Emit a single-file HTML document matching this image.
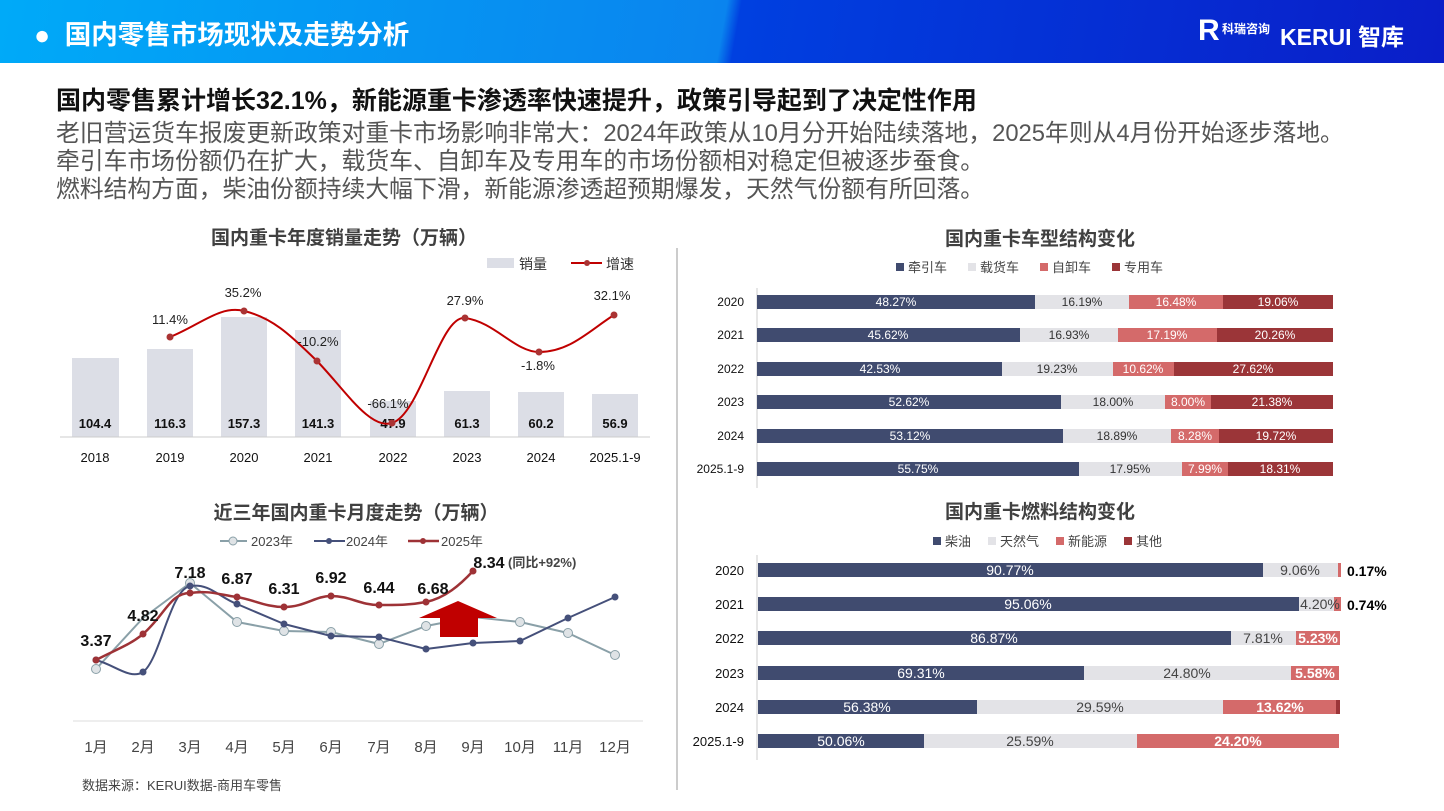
<!DOCTYPE html>
<html><head><meta charset="utf-8">
<style>
body{margin:0;width:1444px;height:811px;overflow:hidden;background:#fff;font-family:"Liberation Sans","Noto Sans CJK SC",sans-serif;}
.hdr{position:absolute;left:0;top:0;width:1444px;height:63px;background:linear-gradient(100deg,#00aaf8 0%,#0a84ee 50%,#0040e0 51%,#0a1ec8 100%);}
.hdr .t{position:absolute;left:34px;top:13px;color:#fff;font-size:26.5px;font-weight:bold;}
.hl{position:absolute;left:56px;top:81px;font-size:25px;font-weight:bold;color:#111;}
.body{position:absolute;left:56px;top:120px;font-size:23.8px;color:#555;line-height:28px;white-space:nowrap;}
svg{position:absolute;left:0;top:0;}
</style></head><body>
<div class="hdr"><div class="t">●&nbsp; 国内零售市场现状及走势分析</div>
<div style="position:absolute;left:1198px;top:14px;color:#fff;font-weight:bold;font-size:30px;">R</div>
<div style="position:absolute;left:1222px;top:20px;color:#fff;font-size:12px;font-weight:bold;">科瑞咨询</div>
<div style="position:absolute;left:1280px;top:18px;color:#fff;font-size:23px;font-weight:bold;">KERUI 智库</div></div>
<div class="hl">国内零售累计增长32.1%，新能源重卡渗透率快速提升，政策引导起到了决定性作用</div>
<div class="body">老旧营运货车报废更新政策对重卡市场影响非常大：2024年政策从10月分开始陆续落地，2025年则从4月份开始逐步落地。<br>牵引车市场份额仍在扩大，载货车、自卸车及专用车的市场份额相对稳定但被逐步蚕食。<br>燃料结构方面，柴油份额持续大幅下滑，新能源渗透超预期爆发，天然气份额有所回落。</div>
<svg width="1444" height="811" font-family="Liberation Sans, Noto Sans CJK SC, sans-serif">
<line x1="677" y1="248" x2="677" y2="790" stroke="#bbb" stroke-width="1.5"/>
<!-- top left -->
<text x="344" y="244" font-size="19" font-weight="bold" fill="#404040" text-anchor="middle">国内重卡年度销量走势（万辆）</text>
<rect x="487" y="258" width="27" height="10" fill="#dcdee6"/><text x="519" y="269" font-size="14" fill="#333">销量</text>
<line x1="571" y1="263" x2="602" y2="263" stroke="#c00000" stroke-width="2"/><circle cx="587" cy="263" r="3" fill="#a33"/><text x="606" y="269" font-size="14" fill="#333">增速</text>
<g fill="#dcdee6">
<rect x="72" y="358" width="47" height="79"/><rect x="147" y="349" width="46" height="88"/><rect x="221" y="317" width="46" height="120"/><rect x="295" y="330" width="46" height="107"/><rect x="370" y="401" width="46" height="36"/><rect x="444" y="391" width="46" height="46"/><rect x="518" y="392" width="46" height="45"/><rect x="592" y="394" width="46" height="43"/></g>
<line x1="60" y1="437" x2="650" y2="437" stroke="#ccc"/>
<g font-size="13" font-weight="bold" fill="#111" text-anchor="middle">
<text x="95" y="428">104.4</text><text x="170" y="428">116.3</text><text x="244" y="428">157.3</text><text x="318" y="428">141.3</text><text x="393" y="428">47.9</text><text x="467" y="428">61.3</text><text x="541" y="428">60.2</text><text x="615" y="428">56.9</text></g>
<g font-size="13" fill="#111" text-anchor="middle">
<text x="95" y="462">2018</text><text x="170" y="462">2019</text><text x="244" y="462">2020</text><text x="318" y="462">2021</text><text x="393" y="462">2022</text><text x="467" y="462">2023</text><text x="541" y="462">2024</text><text x="615" y="462">2025.1-9</text></g>
<path d="M170,337 C200,325 220,305 244,311 C275,318 295,340 317,361 C345,390 370,430 392,423 C420,415 440,315 465,318 C495,322 515,352 539,352 C570,352 590,330 614,315" fill="none" stroke="#c00000" stroke-width="2"/>
<g fill="#a33"><circle cx="170" cy="337" r="3.5"/><circle cx="244" cy="311" r="3.5"/><circle cx="317" cy="361" r="3.5"/><circle cx="392" cy="423" r="3.5"/><circle cx="465" cy="318" r="3.5"/><circle cx="539" cy="352" r="3.5"/><circle cx="614" cy="315" r="3.5"/></g>
<g font-size="13" fill="#222" text-anchor="middle">
<text x="170" y="324">11.4%</text><text x="243" y="297">35.2%</text><text x="318" y="346">-10.2%</text><text x="388" y="408">-66.1%</text><text x="465" y="305">27.9%</text><text x="538" y="370">-1.8%</text><text x="612" y="300">32.1%</text></g>
<!-- bottom left -->
<text x="356" y="519" font-size="19" font-weight="bold" fill="#404040" text-anchor="middle">近三年国内重卡月度走势（万辆）</text>
<line x1="220" y1="541" x2="247" y2="541" stroke="#8aa0a8" stroke-width="2"/><circle cx="233" cy="541" r="4" fill="#dfe3e6" stroke="#8aa0a8"/><text x="251" y="546" font-size="13" fill="#444">2023年</text>
<line x1="314" y1="541" x2="345" y2="541" stroke="#45507a" stroke-width="2"/><circle cx="329" cy="541" r="3" fill="#45507a"/><text x="346" y="546" font-size="13" fill="#444">2024年</text>
<line x1="408" y1="541" x2="439" y2="541" stroke="#9e3236" stroke-width="2.5"/><circle cx="423" cy="541" r="3" fill="#9e3236"/><text x="441" y="546" font-size="13" fill="#444">2025年</text>
<line x1="73" y1="721" x2="643" y2="721" stroke="#ddd"/>
<g font-size="15" fill="#444" text-anchor="middle">
<text x="96" y="752">1月</text><text x="143" y="752">2月</text><text x="190" y="752">3月</text><text x="237" y="752">4月</text><text x="284" y="752">5月</text><text x="331" y="752">6月</text><text x="379" y="752">7月</text><text x="426" y="752">8月</text><text x="473" y="752">9月</text><text x="520" y="752">10月</text><text x="568" y="752">11月</text><text x="615" y="752">12月</text></g>
<polyline points="96,669 143,618 190,583 237,622 284,631 331,632 379,644 426,626 473,617 520,622 568,633 615,655" fill="none" stroke="#8aa0a8" stroke-width="2" stroke-linejoin="round"/>
<g fill="#dfe3e6" stroke="#8aa0a8"><circle cx="96" cy="669" r="4.5"/><circle cx="190" cy="583" r="4.5"/><circle cx="237" cy="622" r="4.5"/><circle cx="284" cy="631" r="4.5"/><circle cx="331" cy="632" r="4.5"/><circle cx="379" cy="644" r="4.5"/><circle cx="426" cy="626" r="4.5"/><circle cx="520" cy="622" r="4.5"/><circle cx="568" cy="633" r="4.5"/><circle cx="615" cy="655" r="4.5"/></g>
<path d="M96,660 C115,665 130,680 143,672 C160,660 170,590 190,586 C210,583 220,598 237,604 L284,624 L331,636 L379,637 L426,649 L473,643 L520,641 L568,618 L615,597" fill="none" stroke="#45507a" stroke-width="2" stroke-linejoin="round"/>
<g fill="#45507a"><circle cx="96" cy="660" r="3.5"/><circle cx="143" cy="672" r="3.5"/><circle cx="190" cy="586" r="3.5"/><circle cx="237" cy="604" r="3.5"/><circle cx="284" cy="624" r="3.5"/><circle cx="331" cy="636" r="3.5"/><circle cx="379" cy="637" r="3.5"/><circle cx="426" cy="649" r="3.5"/><circle cx="473" cy="643" r="3.5"/><circle cx="520" cy="641" r="3.5"/><circle cx="568" cy="618" r="3.5"/><circle cx="615" cy="597" r="3.5"/></g>
<path d="M96,660 C115,650 130,645 143,634 C165,615 170,593 190,593 C210,590 220,595 237,597 C255,600 265,607 284,607 C305,607 315,596 331,596 C350,596 360,605 379,605 C400,605 410,605 426,602 C445,598 460,585 473,571" fill="none" stroke="#9e3236" stroke-width="2.5"/>
<g fill="#9e3236"><circle cx="96" cy="660" r="3.5"/><circle cx="143" cy="634" r="3.5"/><circle cx="190" cy="593" r="3.5"/><circle cx="237" cy="597" r="3.5"/><circle cx="284" cy="607" r="3.5"/><circle cx="331" cy="596" r="3.5"/><circle cx="379" cy="605" r="3.5"/><circle cx="426" cy="602" r="3.5"/><circle cx="473" cy="571" r="3.5"/></g>
<polygon points="458,601 497,618 478,618 478,637 440,637 440,618 419,618" fill="#c00000"/>
<g font-size="16" font-weight="bold" fill="#111" text-anchor="middle">
<text x="96" y="646">3.37</text><text x="143" y="621">4.82</text><text x="190" y="578">7.18</text><text x="237" y="584">6.87</text><text x="284" y="594">6.31</text><text x="331" y="583">6.92</text><text x="379" y="593">6.44</text><text x="433" y="594">6.68</text><text x="489" y="568">8.34</text></g>
<text x="508" y="567" font-size="13" font-weight="bold" fill="#444">(同比+92%)</text>
<text x="82" y="790" font-size="13" fill="#444">数据来源：KERUI数据-商用车零售</text>
<!-- top right -->
<text x="1040" y="245" font-size="19" font-weight="bold" fill="#404040" text-anchor="middle">国内重卡车型结构变化</text>
<g font-size="13" fill="#444">
<rect x="896" y="263" width="8" height="8" fill="#404b6f"/><text x="908" y="272">牵引车</text>
<rect x="968" y="263" width="8" height="8" fill="#e3e3e7"/><text x="980" y="272">载货车</text>
<rect x="1040" y="263" width="8" height="8" fill="#d46a6a"/><text x="1052" y="272">自卸车</text>
<rect x="1112" y="263" width="8" height="8" fill="#9b3538"/><text x="1124" y="272">专用车</text></g>
<line x1="757" y1="288" x2="757" y2="488" stroke="#ccc"/>
<g font-size="12">
<g transform="translate(0,295)"><rect x="757" width="278" height="14" fill="#404b6f"/><rect x="1035" width="94" height="14" fill="#e3e3e7"/><rect x="1129" width="94" height="14" fill="#d46a6a"/><rect x="1223" width="110" height="14" fill="#9b3538"/>
<text x="744" y="11" text-anchor="end" fill="#111">2020</text><text x="896" y="11" text-anchor="middle" fill="#fff">48.27%</text><text x="1082" y="11" text-anchor="middle" fill="#333">16.19%</text><text x="1176" y="11" text-anchor="middle" fill="#fff">16.48%</text><text x="1278" y="11" text-anchor="middle" fill="#fff">19.06%</text></g>
<g transform="translate(0,328)"><rect x="757" width="263" height="14" fill="#404b6f"/><rect x="1020" width="98" height="14" fill="#e3e3e7"/><rect x="1118" width="99" height="14" fill="#d46a6a"/><rect x="1217" width="116" height="14" fill="#9b3538"/>
<text x="744" y="11" text-anchor="end" fill="#111">2021</text><text x="888" y="11" text-anchor="middle" fill="#fff">45.62%</text><text x="1069" y="11" text-anchor="middle" fill="#333">16.93%</text><text x="1167" y="11" text-anchor="middle" fill="#fff">17.19%</text><text x="1275" y="11" text-anchor="middle" fill="#fff">20.26%</text></g>
<g transform="translate(0,362)"><rect x="757" width="245" height="14" fill="#404b6f"/><rect x="1002" width="111" height="14" fill="#e3e3e7"/><rect x="1113" width="61" height="14" fill="#d46a6a"/><rect x="1174" width="159" height="14" fill="#9b3538"/>
<text x="744" y="11" text-anchor="end" fill="#111">2022</text><text x="880" y="11" text-anchor="middle" fill="#fff">42.53%</text><text x="1057" y="11" text-anchor="middle" fill="#333">19.23%</text><text x="1143" y="11" text-anchor="middle" fill="#fff">10.62%</text><text x="1253" y="11" text-anchor="middle" fill="#fff">27.62%</text></g>
<g transform="translate(0,395)"><rect x="757" width="304" height="14" fill="#404b6f"/><rect x="1061" width="104" height="14" fill="#e3e3e7"/><rect x="1165" width="46" height="14" fill="#d46a6a"/><rect x="1211" width="122" height="14" fill="#9b3538"/>
<text x="744" y="11" text-anchor="end" fill="#111">2023</text><text x="909" y="11" text-anchor="middle" fill="#fff">52.62%</text><text x="1113" y="11" text-anchor="middle" fill="#333">18.00%</text><text x="1188" y="11" text-anchor="middle" fill="#fff">8.00%</text><text x="1272" y="11" text-anchor="middle" fill="#fff">21.38%</text></g>
<g transform="translate(0,429)"><rect x="757" width="306" height="14" fill="#404b6f"/><rect x="1063" width="108" height="14" fill="#e3e3e7"/><rect x="1171" width="48" height="14" fill="#d46a6a"/><rect x="1219" width="114" height="14" fill="#9b3538"/>
<text x="744" y="11" text-anchor="end" fill="#111">2024</text><text x="910" y="11" text-anchor="middle" fill="#fff">53.12%</text><text x="1117" y="11" text-anchor="middle" fill="#333">18.89%</text><text x="1195" y="11" text-anchor="middle" fill="#fff">8.28%</text><text x="1276" y="11" text-anchor="middle" fill="#fff">19.72%</text></g>
<g transform="translate(0,462)"><rect x="757" width="322" height="14" fill="#404b6f"/><rect x="1079" width="103" height="14" fill="#e3e3e7"/><rect x="1182" width="46" height="14" fill="#d46a6a"/><rect x="1228" width="105" height="14" fill="#9b3538"/>
<text x="744" y="11" text-anchor="end" fill="#111">2025.1-9</text><text x="918" y="11" text-anchor="middle" fill="#fff">55.75%</text><text x="1130" y="11" text-anchor="middle" fill="#333">17.95%</text><text x="1205" y="11" text-anchor="middle" fill="#fff">7.99%</text><text x="1280" y="11" text-anchor="middle" fill="#fff">18.31%</text></g>
</g>
<!-- bottom right -->
<text x="1040" y="518" font-size="19" font-weight="bold" fill="#404040" text-anchor="middle">国内重卡燃料结构变化</text>
<g font-size="13" fill="#444">
<rect x="933" y="537" width="8" height="8" fill="#404b6f"/><text x="945" y="546">柴油</text>
<rect x="988" y="537" width="8" height="8" fill="#e3e3e7"/><text x="1000" y="546">天然气</text>
<rect x="1056" y="537" width="8" height="8" fill="#d46a6a"/><text x="1068" y="546">新能源</text>
<rect x="1124" y="537" width="8" height="8" fill="#9b3538"/><text x="1136" y="546">其他</text></g>
<line x1="757" y1="555" x2="757" y2="760" stroke="#ccc"/>
<g font-size="14">
<g transform="translate(0,563)"><rect x="758" width="505" height="14" fill="#404b6f"/><rect x="1263" width="75" height="14" fill="#e3e3e7"/><rect x="1338" width="3" height="14" fill="#d46a6a"/>
<text x="744" y="12" font-size="13" text-anchor="end" fill="#111">2020</text><text x="1010" y="12" text-anchor="middle" fill="#fff">90.77%</text><text x="1300" y="12" text-anchor="middle" fill="#444">9.06%</text><text x="1347" y="13" font-weight="bold" fill="#000">0.17%</text></g>
<g transform="translate(0,597)"><rect x="758" width="541" height="14" fill="#404b6f"/><rect x="1299" width="35" height="14" fill="#e3e3e7"/><rect x="1334" width="7" height="14" fill="#d46a6a"/>
<text x="744" y="12" font-size="13" text-anchor="end" fill="#111">2021</text><text x="1028" y="12" text-anchor="middle" fill="#fff">95.06%</text><text x="1320" y="12" text-anchor="middle" fill="#444">4.20%</text><text x="1347" y="13" font-weight="bold" fill="#000">0.74%</text></g>
<g transform="translate(0,631)"><rect x="758" width="473" height="14" fill="#404b6f"/><rect x="1231" width="65" height="14" fill="#e3e3e7"/><rect x="1296" width="44" height="14" fill="#d46a6a"/>
<text x="744" y="12" font-size="13" text-anchor="end" fill="#111">2022</text><text x="994" y="12" text-anchor="middle" fill="#fff">86.87%</text><text x="1263" y="12" text-anchor="middle" fill="#444">7.81%</text><text x="1318" y="12" text-anchor="middle" font-weight="bold" fill="#fff">5.23%</text></g>
<g transform="translate(0,666)"><rect x="758" width="326" height="14" fill="#404b6f"/><rect x="1084" width="207" height="14" fill="#e3e3e7"/><rect x="1291" width="48" height="14" fill="#d46a6a"/>
<text x="744" y="12" font-size="13" text-anchor="end" fill="#111">2023</text><text x="921" y="12" text-anchor="middle" fill="#fff">69.31%</text><text x="1187" y="12" text-anchor="middle" fill="#444">24.80%</text><text x="1315" y="12" text-anchor="middle" font-weight="bold" fill="#fff">5.58%</text></g>
<g transform="translate(0,700)"><rect x="758" width="219" height="14" fill="#404b6f"/><rect x="977" width="246" height="14" fill="#e3e3e7"/><rect x="1223" width="113" height="14" fill="#d46a6a"/><rect x="1336" width="4" height="14" fill="#9b3538"/>
<text x="744" y="12" font-size="13" text-anchor="end" fill="#111">2024</text><text x="867" y="12" text-anchor="middle" fill="#fff">56.38%</text><text x="1100" y="12" text-anchor="middle" fill="#444">29.59%</text><text x="1280" y="12" text-anchor="middle" font-weight="bold" fill="#fff">13.62%</text></g>
<g transform="translate(0,734)"><rect x="758" width="166" height="14" fill="#404b6f"/><rect x="924" width="213" height="14" fill="#e3e3e7"/><rect x="1137" width="202" height="14" fill="#d46a6a"/>
<text x="744" y="12" font-size="13" text-anchor="end" fill="#111">2025.1-9</text><text x="841" y="12" text-anchor="middle" fill="#fff">50.06%</text><text x="1030" y="12" text-anchor="middle" fill="#444">25.59%</text><text x="1238" y="12" text-anchor="middle" font-weight="bold" fill="#fff">24.20%</text></g>
</g>
</svg>
</body></html>
